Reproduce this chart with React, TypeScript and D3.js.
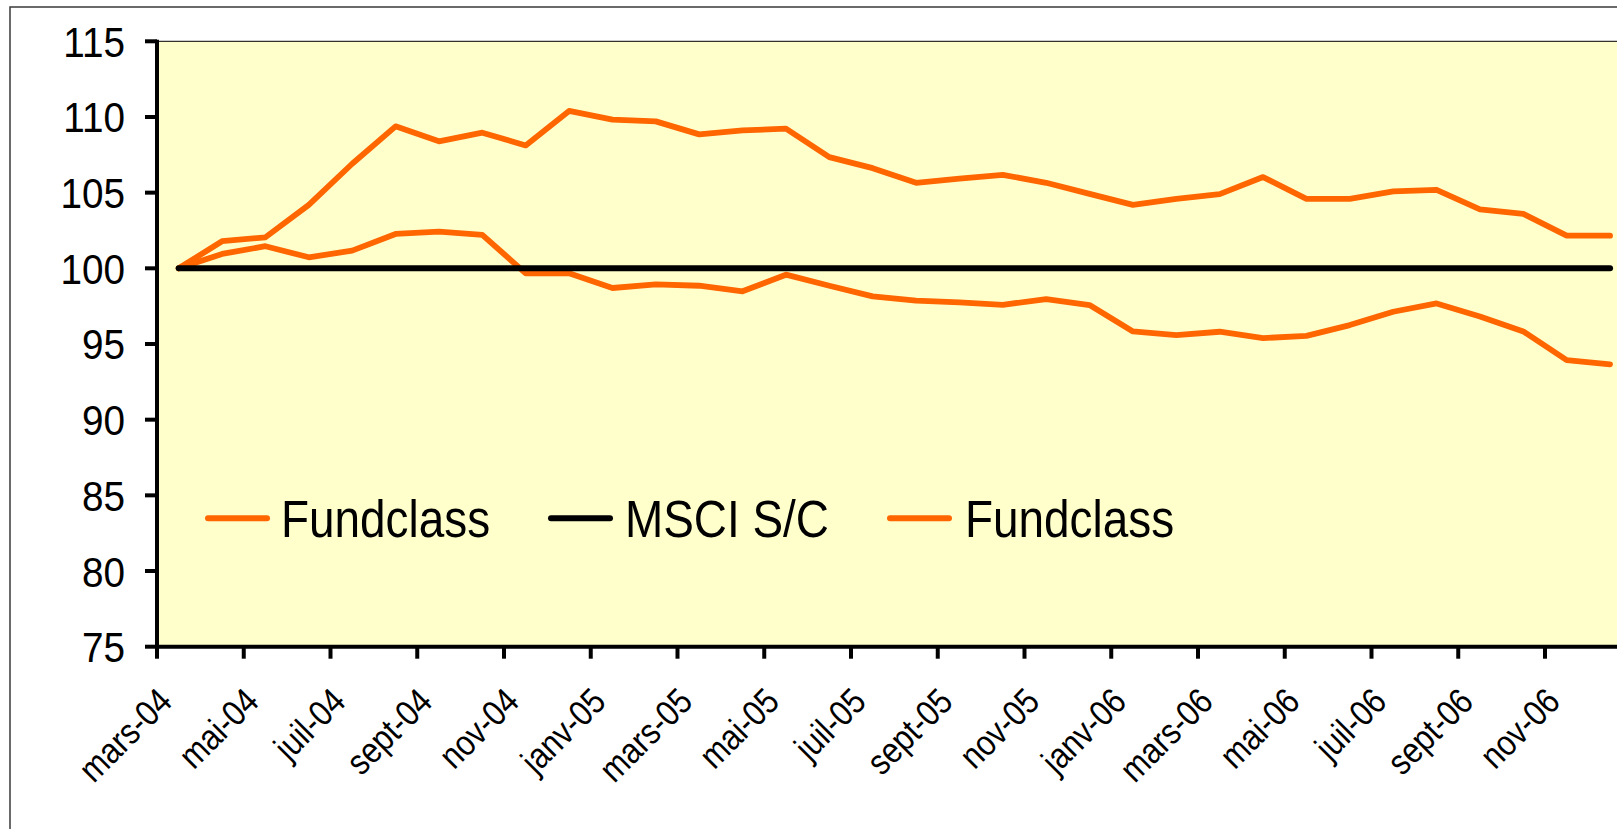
import React from "react";
import * as d3 from "d3";

const months = [
  "mars-04", "avr-04", "mai-04", "juin-04", "juil-04", "août-04", "sept-04", "oct-04", "nov-04", "déc-04",
  "janv-05", "févr-05", "mars-05", "avr-05", "mai-05", "juin-05", "juil-05", "août-05", "sept-05", "oct-05", "nov-05", "déc-05",
  "janv-06", "févr-06", "mars-06", "avr-06", "mai-06", "juin-06", "juil-06", "août-06", "sept-06", "oct-06", "nov-06", "déc-06",
];

const fundUpper = [
  100, 101.79, 102.05, 104.19, 106.91, 109.38, 108.39, 108.96, 108.12, 110.4,
  109.82, 109.71, 108.85, 109.11, 109.23, 107.35, 106.62, 105.65, 105.92, 106.18,
  105.65, 104.92, 104.19, 104.59, 104.9, 106.03, 104.59, 104.59, 105.08, 105.19,
  103.89, 103.6, 102.16, 102.16,
];

const fundLower = [
  100, 100.95, 101.46, 100.73, 101.17, 102.27, 102.43, 102.21, 99.67, 99.67,
  98.7, 98.94, 98.85, 98.48, 99.58, 98.85, 98.15, 97.86, 97.75, 97.59,
  97.97, 97.57, 95.83, 95.59, 95.81, 95.39, 95.54, 96.25, 97.13, 97.68,
  96.82, 95.83, 93.93, 93.66,
];

const msci = months.map(() => 100);

const yTicks = [75, 80, 85, 90, 95, 100, 105, 110, 115];

const legendItems = [
  { label: "Fundclass", color: "#FF6600" },
  { label: "MSCI S/C", color: "#000000" },
  { label: "Fundclass", color: "#FF6600" },
];

const W = 1617;
const H = 829;
const FONT = "'Liberation Sans', Arial, Helvetica, sans-serif";

export default function App() {
  const left = 157;
  const top = 41.3;
  const bottom = 646.7;
  const catW = 43.375;
  const right = left + months.length * catW;

  const x = d3.scalePoint<string>().domain(months).range([left, right]).padding(0.5);
  const y = d3.scaleLinear().domain([75, 115]).range([bottom, top]);

  const line = d3
    .line<number>()
    .x((_, i) => x(months[i]) as number)
    .y((d) => y(d));

  const tickIdx = d3.range(0, months.length, 2);
  const tickX = (i: number) => left + i * catW;

  const legendX = [205, 548, 887];
  const legendTextX = [281, 625, 965];
  const legendY = 518.3;

  return (
    <svg
      width={W}
      height={H}
      style={{ position: "fixed", left: 0, top: 0, display: "block", background: "#fff" }}
    >
      <rect x={0} y={0} width={W} height={H} fill="#ffffff" />
      {/* outer chart frame */}
      <rect x={10} y={7} width={W + 20} height={H + 20} fill="none" stroke="#3a3a3a" strokeWidth={1.5} />
      {/* plot area */}
      <rect x={left} y={top} width={right - left} height={bottom - top} fill="#FFFFCC" stroke="#000" strokeWidth={1} />

      {/* series */}
      <path d={line(fundUpper) || ""} fill="none" stroke="#FF6600" strokeWidth={5.8} strokeLinejoin="round" strokeLinecap="round" />
      <path d={line(fundLower) || ""} fill="none" stroke="#FF6600" strokeWidth={5.8} strokeLinejoin="round" strokeLinecap="round" />
      <path d={line(msci) || ""} fill="none" stroke="#000000" strokeWidth={6} strokeLinejoin="round" strokeLinecap="round" />

      {/* y axis */}
      <line x1={left} x2={left} y1={top - 1.5} y2={bottom + 2} stroke="#000" strokeWidth={4} />
      {yTicks.map((t) => (
        <g key={t}>
          <line x1={left - 12} x2={left} y1={y(t)} y2={y(t)} stroke="#000" strokeWidth={4} />
          <text
            transform={`translate(125,${y(t)}) scale(0.9,1)`}
            dy="0.36em"
            textAnchor="end"
            fontFamily={FONT}
            fontSize={43}
            fill="#000"
          >
            {t}
          </text>
        </g>
      ))}

      {/* x axis */}
      <line x1={left - 2} x2={W + 10} y1={bottom} y2={bottom} stroke="#000" strokeWidth={4} />
      {tickIdx.map((i) => (
        <g key={i}>
          <line x1={tickX(i)} x2={tickX(i)} y1={bottom} y2={bottom + 12} stroke="#000" strokeWidth={4} />
          <text
            transform={`translate(${tickX(i) + 17},${bottom + 57}) rotate(-45) scale(0.86,1)`}
            textAnchor="end"
            fontFamily={FONT}
            fontSize={36}
            fill="#000"
          >
            {months[i]}
          </text>
        </g>
      ))}

      {/* legend */}
      {legendItems.map((it, k) => (
        <g key={k}>
          <line
            x1={legendX[k] + 3}
            x2={legendX[k] + 62}
            y1={legendY}
            y2={legendY}
            stroke={it.color}
            strokeWidth={6}
            strokeLinecap="round"
          />
          <text
            transform={`translate(${legendTextX[k]},537) scale(0.9,1)`}
            fontFamily={FONT}
            fontSize={51}
            fill="#000"
          >
            {it.label}
          </text>
        </g>
      ))}
    </svg>
  );
}
